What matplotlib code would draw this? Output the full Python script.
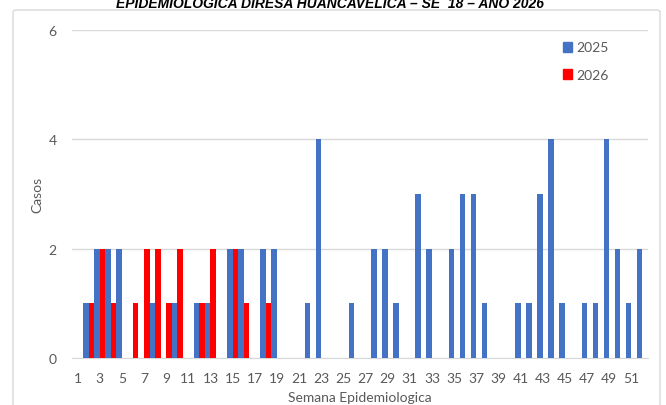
import numpy as np
import matplotlib.pyplot as plt
from matplotlib.patches import Patch, FancyBboxPatch

# Datos
semanas = np.arange(1, 53)
casos_2025 = [0, 1, 2, 2, 2, 0, 0, 1, 0, 1, 0, 1, 1, 0, 2, 2, 0, 2, 2, 0,
              0, 1, 4, 0, 0, 1, 0, 2, 2, 1, 0, 3, 2, 0, 2, 3, 3, 1, 0, 0,
              1, 1, 3, 4, 1, 0, 1, 1, 4, 2, 1, 2]
semanas_2026 = np.arange(1, 19)
casos_2026 = [0, 1, 2, 1, 0, 1, 2, 2, 1, 2, 0, 1, 2, 0, 2, 1, 0, 1]
etiquetas_x = [str(s) for s in range(1, 53, 2)]

titulo = "EPIDEMIOLOGICA DIRESA HUANCAVELICA – SE  18 – AÑO 2026"

AZUL = '#4472C4'
ROJO = '#FF0000'
GRIS_TXT = '#595959'
GRIS_LIN = '#D9D9D9'

plt.rcParams['font.family'] = ['Lato', 'DejaVu Sans']

fig = plt.figure(figsize=(6.66, 4.06), dpi=100)

# marco del grafico
marco = FancyBboxPatch((13 / 666, -0.05), 647 / 666, 1 - 11 / 406 + 0.05,
                       boxstyle="round,pad=0,rounding_size=0.005",
                       transform=fig.transFigure, facecolor='white',
                       edgecolor=GRIS_LIN, linewidth=1.0, zorder=-1)
fig.patches.append(marco)

ax = fig.add_axes([72 / 666, 1 - 359 / 406, 576 / 666, 328 / 406])
ax.patch.set_alpha(0)

ancho = 0.5
ax.bar(semanas - ancho / 2, casos_2025, width=ancho, color=AZUL, zorder=3)
ax.bar(semanas_2026 + ancho / 2, casos_2026, width=ancho, color=ROJO, zorder=3)

ax.set_xlim(0.5, 52.5)
ax.set_ylim(0, 6)
ax.set_yticks([0, 2, 4, 6])
ax.set_xticks(np.arange(1, 53, 2))
ax.set_xticklabels(etiquetas_x)
ax.grid(axis='y', color=GRIS_LIN, linewidth=1.0, zorder=0)
ax.set_axisbelow(True)
for s in ['top', 'right', 'left']:
    ax.spines[s].set_visible(False)
ax.spines['bottom'].set_color(GRIS_LIN)
ax.tick_params(axis='both', length=0, labelsize=10, colors=GRIS_TXT)
ax.tick_params(axis='x', pad=10)
ax.tick_params(axis='y', pad=11)
ax.set_xlabel("Semana Epidemiologica", fontsize=10, color=GRIS_TXT, labelpad=5)
ax.set_ylabel("Casos", fontsize=10, color=GRIS_TXT, labelpad=4)

fig.legend(handles=[Patch(color=AZUL, label='2025'), Patch(color=ROJO, label='2026')],
           loc='upper left', bbox_to_anchor=(550 / 666, 1 - 30 / 406),
           frameon=False, fontsize=10, handlelength=0.7, handleheight=0.7,
           handletextpad=0.3, labelspacing=1.1, labelcolor=GRIS_TXT)

fig.text(0.495, 1 - 8 / 406, titulo, ha='center', va='baseline', fontsize=10,
         fontweight='bold', fontstyle='italic', color='black',
         family=['Liberation Sans', 'DejaVu Sans'])

fig.savefig("out.png", dpi=100)
